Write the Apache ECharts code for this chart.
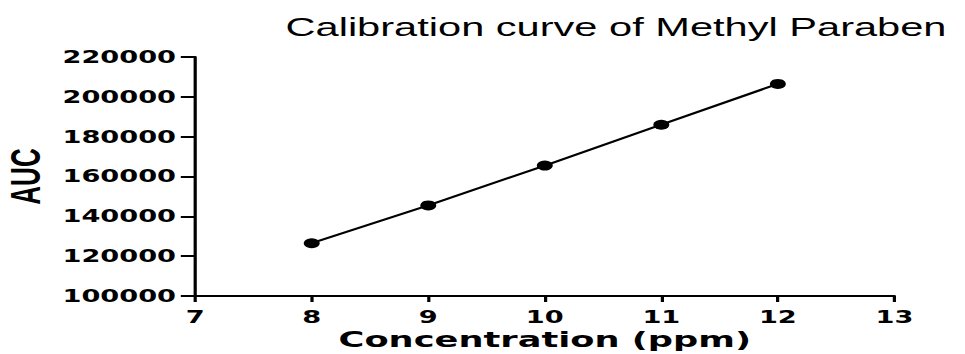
<!DOCTYPE html>
<html><head><meta charset="utf-8">
<script src="https://cdn.jsdelivr.net/npm/echarts@6/dist/echarts.min.js"></script>
<style>
html,body{margin:0;padding:0;background:#fff;overflow:hidden}
#wrap{width:965px;height:354px;overflow:hidden}
/* the reference figure is horizontally stretched; draw at native width and stretch the same way */
#c{width:603.125px;height:354px;transform:scaleX(1.6);transform-origin:0 0}
</style>
</head><body><div id="wrap"><div id="c"></div></div>
<script>
const concentrations = [8, 9, 10, 11, 12];
const aucValues = [126500, 145500, 165500, 186000, 206500];
const titleText = 'Calibration curve of Methyl Paraben';
const xName = 'Concentration (ppm)';
const yName = 'AUC';

const chart = echarts.init(document.getElementById('c'), null, {renderer: 'svg'});
const tickFont = {fontFamily: 'DejaVu Sans, sans-serif', fontWeight: 'bold', color: '#000', fontSize: 17, lineHeight: 17};
chart.setOption({
  animation: false,
  title: {text: titleText, left: 380, top: 9, textAlign: 'center',
    textStyle: {fontFamily: 'Liberation Sans, Arial, sans-serif', fontWeight: 'normal', fontSize: 26, color: '#000'}},
  grid: {left: 122, top: 57, right: 44, bottom: 58, containLabel: false, outerBoundsMode: 'none'},
  xAxis: {type: 'value', min: 7, max: 13, interval: 1,
    name: xName, nameLocation: 'middle', nameGap: 32, nameMoveOverlap: false,
    nameTextStyle: {fontFamily: 'DejaVu Sans, sans-serif', fontWeight: 'bold', fontSize: 22, lineHeight: 22, color: '#000'},
    axisLine: {lineStyle: {color: '#000', width: 2}},
    axisTick: {length: 6, lineStyle: {color: '#000', width: 2}},
    axisLabel: Object.assign({margin: 13}, tickFont),
    splitLine: {show: false}},
  yAxis: {type: 'value', min: 100000, max: 220000, interval: 20000,
    name: yName, nameLocation: 'middle', nameGap: 93, nameRotate: 90, nameMoveOverlap: false,
    nameTextStyle: {fontFamily: 'Liberation Sans, Arial, sans-serif', fontWeight: 'bold', fontSize: 26, color: '#000'},
    axisLine: {lineStyle: {color: '#000', width: 2}},
    axisTick: {length: 9, lineStyle: {color: '#000', width: 2}},
    axisLabel: Object.assign({margin: 12, formatter: v => String(v)}, tickFont),
    splitLine: {show: false}},
  series: [{type: 'line', data: concentrations.map((x, i) => [x, aucValues[i]]),
    symbol: 'circle', symbolSize: 10,
    lineStyle: {color: '#000', width: 2},
    itemStyle: {color: '#000'}}]
});
</script></body></html>
